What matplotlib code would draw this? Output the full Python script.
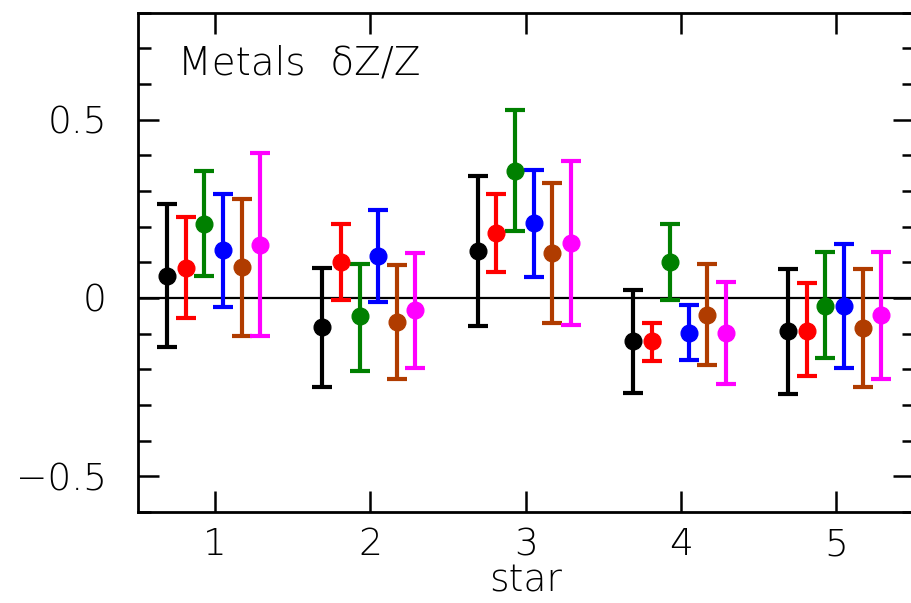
import numpy as np
import matplotlib
matplotlib.use('Agg')
import matplotlib.pyplot as plt
from matplotlib.ticker import MultipleLocator

# stars on the x axis
stars = [1, 2, 3, 4, 5]

# dZ/Z for each of the six series, with lower and upper ends of the error bars
black_val = [0.062, -0.082, 0.132, -0.122, -0.093]
black_lo = [-0.138, -0.251, -0.078, -0.267, -0.268]
black_hi = [0.263, 0.083, 0.342, 0.022, 0.081]

red_val = [0.084, 0.102, 0.182, -0.122, -0.093]
red_lo = [-0.056, -0.005, 0.073, -0.176, -0.220]
red_hi = [0.226, 0.206, 0.291, -0.070, 0.041]

green_val = [0.208, -0.052, 0.357, 0.101, -0.022]
green_lo = [0.061, -0.204, 0.187, -0.007, -0.168]
green_hi = [0.357, 0.096, 0.527, 0.208, 0.130]

blue_val = [0.133, 0.118, 0.209, -0.097, -0.023]
blue_lo = [-0.025, -0.011, 0.059, -0.174, -0.197]
blue_hi = [0.292, 0.247, 0.359, -0.021, 0.152]

brown_val = [0.086, -0.067, 0.125, -0.047, -0.085]
brown_lo = [-0.107, -0.228, -0.070, -0.189, -0.250]
brown_hi = [0.277, 0.092, 0.321, 0.095, 0.082]

mag_val = [0.149, -0.035, 0.154, -0.099, -0.049]
mag_lo = [-0.107, -0.196, -0.076, -0.241, -0.227]
mag_hi = [0.406, 0.126, 0.385, 0.044, 0.130]

series = [
    (black_val, black_lo, black_hi, 'black'),
    (red_val, red_lo, red_hi, 'red'),
    (green_val, green_lo, green_hi, '#008000'),
    (blue_val, blue_lo, blue_hi, 'blue'),
    (brown_val, brown_lo, brown_hi, '#b03c00'),
    (mag_val, mag_lo, mag_hi, 'magenta'),
]
offsets = [-0.31, -0.19, -0.07, 0.05, 0.17, 0.29]

plt.rcParams['font.family'] = 'DejaVu Sans'
plt.rcParams['font.weight'] = 'light'
plt.rcParams['axes.labelweight'] = 'light'

fig = plt.figure(figsize=(9.11, 6.03), dpi=100)
W, H = 911, 603
ax = fig.add_axes([137.5 / W, 91 / H, 776.5 / W, 499.5 / H])

ax.axhline(0, color='black', lw=1.6, zorder=1)

for (val, lo, hi, col), off in zip(series, offsets):
    x = np.array(stars) + off
    v = np.array(val)
    yerr = [v - np.array(lo), np.array(hi) - v]
    ax.errorbar(x, v, yerr=yerr, fmt='o', color=col, ms=12, elinewidth=3,
                capsize=7, capthick=3, zorder=3)

ax.set_xlim(0.5, 5.5)
ax.set_ylim(-0.6, 0.8)
ax.set_xticks(stars)
ax.set_yticks([-0.5, 0, 0.5])
ax.set_yticklabels(['\u22120.5', '0', '0.5'])
ax.yaxis.set_minor_locator(MultipleLocator(0.1))

ax.tick_params(which='both', direction='in', top=True, right=True,
               width=1.8, labelsize=27)
ax.tick_params(which='major', length=15)
ax.tick_params(which='minor', length=9)
ax.tick_params(axis='x', pad=11)
ax.tick_params(axis='y', pad=22)
for s in ax.spines.values():
    s.set_linewidth(2)

ax.set_xlabel('star', fontsize=27, fontweight='light', labelpad=1)
ax.text(0.052, 0.875, 'Metals  \u03b4Z/Z', transform=ax.transAxes,
        fontsize=28, va='baseline', ha='left')

fig.savefig('out.png', dpi=100)
